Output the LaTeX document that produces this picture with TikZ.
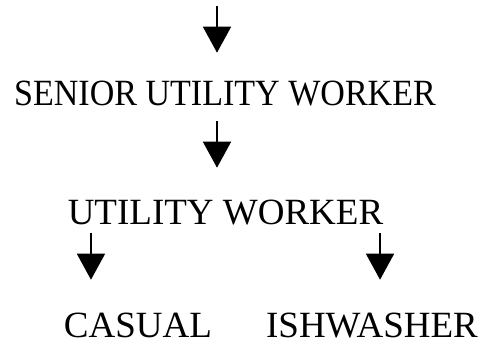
\documentclass[tikz,border=0pt]{standalone}
\usepackage{fontspec}
\setmainfont[FakeStretch=0.92]{Liberation Serif}
\newfontfamily\widerm{Liberation Serif}
\usepackage{tikz}
\usetikzlibrary{arrows.meta}
\usetikzlibrary{positioning}

\begin{document}
\begin{tikzpicture}[x=1pt, y=-1pt, line width=1.6pt,
	>={Triangle[width=28pt,length=26pt]},
	every node/.style={inner sep=0pt, anchor=base, font=\fontsize{37}{40}\selectfont},
	low/.style={font=\widerm\fontsize{37}{40}\selectfont}]
	\useasboundingbox (0,0) rectangle (485,343);
	\coordinate (0) at (217, 6);
	\node (1) at (225, 105) {SENIOR UTILITY WORKER};
	\node[low] (2) at (225.5, 224) {UTILITY WORKER};
	\node[low] (3) at (138, 337) {CASUAL};
	\node[low] (4) at (372, 337) {ISHWASHER};
	\draw [->, shorten >=27pt] (0) to (0 |- 1.north);
	\draw [->, shorten >=31pt] ([xshift=-8, yshift=-15]1.south) coordinate (5) to (5 |- 2.north);
	\draw [->, shorten >=32pt] ([xshift=24, yshift=-8]2.south west) coordinate (6) to (6 |- 3.north);
	\draw [->, shorten >=32pt] ([xshift=-4, yshift=-8]2.south east) coordinate (7) to (7 |- 4.north);
\end{tikzpicture}
\end{document}
